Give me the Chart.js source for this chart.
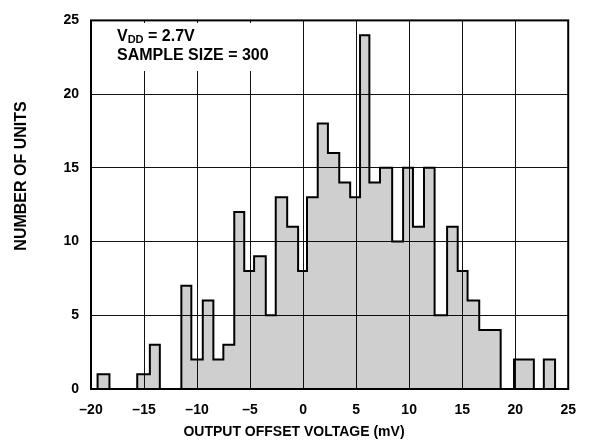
<!DOCTYPE html>
<html>
<head>
<meta charset="utf-8">
<script src="https://cdn.jsdelivr.net/npm/chart.js@4"></script>
<style>
  html, body { margin: 0; padding: 0; background: #fff; }
  canvas { display: block; }
</style>
</head>
<body>
<canvas id="chart" width="589" height="448"></canvas>
<script>
// bin boundaries (mV), counts per bin (0 = empty gap)
const binEdges = [-19.38, -18.26, -15.64, -14.45, -13.51,
  -11.48, -10.54, -9.46, -8.46, -7.52, -6.49, -5.55, -4.62, -3.52, -2.58,
  -1.50, -0.47, 0.37, 1.38, 2.34, 3.41, 4.44, 5.37, 6.25, 7.25,
  8.40, 9.43, 10.36, 11.40, 12.40, 13.58, 14.58, 15.51, 16.61, 17.6,
  18.63, 19.89, 21.76, 22.70, 23.76];
const counts = [1, 0, 1, 3, 0,
  7, 2, 6, 2, 3, 12, 8, 9, 5, 13,
  11, 8, 13, 18, 16, 14, 13, 24, 14, 15,
  10, 15, 11, 15, 5, 11, 8, 6, 4, 4,
  0, 2, 0, 2];

const xTicks = [-20, -15, -10, -5, 0, 5, 10, 15, 20, 25];
const yTicks = [0, 5, 10, 15, 20, 25];
const xTitle = 'OUTPUT OFFSET VOLTAGE (mV)';
const yTitle = 'NUMBER OF UNITS';
const noteLine1 = ['V', 'DD', ' = 2.7V'];
const noteLine2 = 'SAMPLE SIZE = 300';

// step outline: start at baseline, one point per bin start, back to baseline
const steps = [{ x: binEdges[0], y: 0 }];
counts.forEach((c, i) => steps.push({ x: binEdges[i], y: c }));
steps.push({ x: binEdges[binEdges.length - 1], y: 0 });

const tickFont = { family: '"Liberation Sans", Arial, sans-serif', size: 14, weight: 'bold' };

const extras = {
  id: 'extras',
  afterDatasetsDraw(chart) {
    const { ctx, chartArea: a } = chart;
    ctx.save();
    ctx.strokeStyle = '#000';
    ctx.lineWidth = 2;
    ctx.strokeRect(a.left, a.top, a.right - a.left, a.bottom - a.top);

    // note box
    ctx.fillStyle = '#fff';
    ctx.fillRect(110, 23, 165, 48);
    ctx.fillStyle = '#000';
    ctx.textBaseline = 'alphabetic';
    ctx.textAlign = 'left';
    let x = 117;
    ctx.font = 'bold 16px "Liberation Sans"';
    ctx.fillText(noteLine1[0], x, 41);
    x += ctx.measureText(noteLine1[0]).width;
    ctx.font = 'bold 11px "Liberation Sans"';
    ctx.fillText(noteLine1[1], x, 43);
    x += ctx.measureText(noteLine1[1]).width;
    ctx.font = 'bold 16px "Liberation Sans"';
    ctx.fillText(noteLine1[2], x, 41);
    ctx.fillText(noteLine2, 117, 60);

    // axis titles
    ctx.textAlign = 'center';
    ctx.textBaseline = 'middle';
    ctx.font = 'bold 14px "Liberation Sans"';
    ctx.fillText(xTitle, 294, 432);
    ctx.translate(22, 176);
    ctx.rotate(-Math.PI / 2);
    ctx.font = 'bold 16px "Liberation Sans"';
    ctx.fillText(yTitle, 0, 0);
    ctx.restore();
  }
};

new Chart(document.getElementById('chart'), {
  type: 'line',
  data: {
    datasets: [{
      data: steps,
      stepped: 'before',
      borderColor: '#000',
      borderWidth: 2,
      backgroundColor: 'rgba(0,0,0,0.19)',
      fill: 'origin',
      pointRadius: 0,
      tension: 0
    }]
  },
  options: {
    responsive: false,
    animation: false,
    devicePixelRatio: 1,
    layout: { padding: { top: 7, right: 18, left: 0, bottom: 0 } },
    plugins: { legend: { display: false }, tooltip: { enabled: false } },
    scales: {
      x: {
        type: 'linear',
        min: -20,
        max: 25,
        afterBuildTicks: s => { s.ticks = xTicks.map(v => ({ value: v })); },
        afterFit: s => { s.height = 59; },
        grid: { color: '#111', lineWidth: 1, drawTicks: false },
        border: { display: false },
        ticks: {
          padding: 13,
          color: '#000',
          font: tickFont,
          callback: v => String(v).replace('-', '\u2013')
        }
      },
      y: {
        min: 0,
        max: 25,
        afterBuildTicks: s => { s.ticks = yTicks.map(v => ({ value: v })); },
        afterFit: s => { s.width = 91; },
        grid: { color: '#111', lineWidth: 1, drawTicks: false },
        border: { display: false },
        ticks: { padding: 12, color: '#000', font: tickFont }
      }
    }
  },
  plugins: [extras]
});
</script>
</body>
</html>
